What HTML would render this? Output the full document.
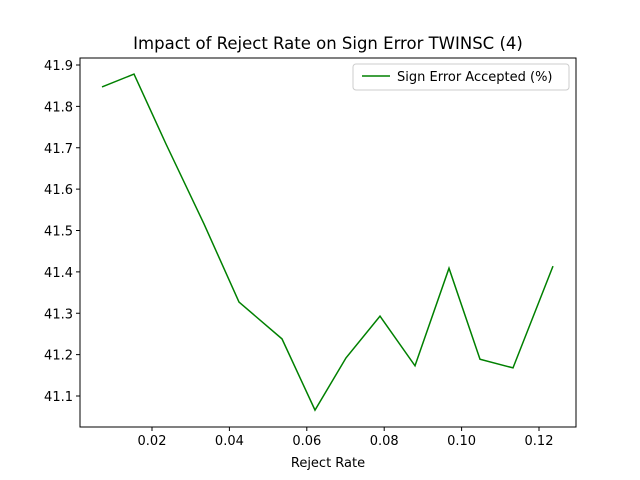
<!DOCTYPE html>
<html><head><meta charset="utf-8"><style>
body{margin:0;background:#fff;}
svg{display:block;font-family:"DejaVu Sans","Liberation Sans",sans-serif;}
</style></head><body>
<svg id="chart" width="640" height="480">
<rect width="640" height="480" fill="#fff"/>
<text x="328" y="49" text-anchor="middle" font-size="16.5">Impact of Reject Rate on Sign Error TWINSC (4)</text>
<g id="axes"></g>
<text x="328" y="467" text-anchor="middle" font-size="13">Reject Rate</text>
<g>
<rect x="353" y="64" width="216" height="26" rx="3" fill="#fff" stroke="#ccc"/>
<line x1="362" y1="76" x2="390" y2="76" stroke="#008000" stroke-width="1.5"/>
<text x="397" y="81" font-size="13">Sign Error Accepted (%)</text>
</g>
</svg>
<script>
const rejectRates=[0.00708,0.01535,0.02362,0.03344,0.04248,0.05359,0.06212,0.07013,0.07891,0.08796,0.09674,0.10475,0.11328,0.12362];
const signErrors=[41.847,41.878,41.709,41.516,41.327,41.238,41.066,41.192,41.293,41.173,41.409,41.189,41.168,41.414];
const xTicks=[0.02,0.04,0.06,0.08,0.10,0.12];
const xTickLabels=["0.02","0.04","0.06","0.08","0.10","0.12"];
const yTicks=[41.1,41.2,41.3,41.4,41.5,41.6,41.7,41.8,41.9];
const yTickLabels=["41.1","41.2","41.3","41.4","41.5","41.6","41.7","41.8","41.9"];
const L=80,R=576,T=58,B=427;
function sx(v){return 152+(v-0.02)/0.02*77.4;}
function sy(v){return 65+(41.9-v)/0.1*41.375;}
const NS="http://www.w3.org/2000/svg";
const g=document.getElementById('axes');
function mk(t,a){const e=document.createElementNS(NS,t);for(const k in a)e.setAttribute(k,a[k]);g.appendChild(e);return e;}
xTicks.forEach((v,i)=>{
 const l=mk('line',{x1:sx(v),x2:sx(v),y1:B,y2:B+4,stroke:'#000'});
 
 
 const t=mk('text',{x:sx(v),y:B+18,'text-anchor':'middle','font-size':13});
 t.textContent=xTickLabels[i];
 
 
});
yTicks.forEach((v,i)=>{
 const l=mk('line',{x1:L-4,x2:L,y1:sy(v),y2:sy(v),stroke:'#000'});
 
 
 const t=mk('text',{x:L-7,y:sy(v)+5,'text-anchor':'end','font-size':13});
 t.textContent=yTickLabels[i];
 
 
});
const pts=rejectRates.map((v,i)=>sx(v).toFixed(1)+','+sy(signErrors[i]).toFixed(1)).join(' ');
const pl=mk('polyline',{points:pts,fill:'none',stroke:'#008000','stroke-width':1.5});


const fr=mk('rect',{x:L,y:T,width:R-L,height:B-T,fill:'none',stroke:'#000','stroke-width':1});


</script>
</body></html>
